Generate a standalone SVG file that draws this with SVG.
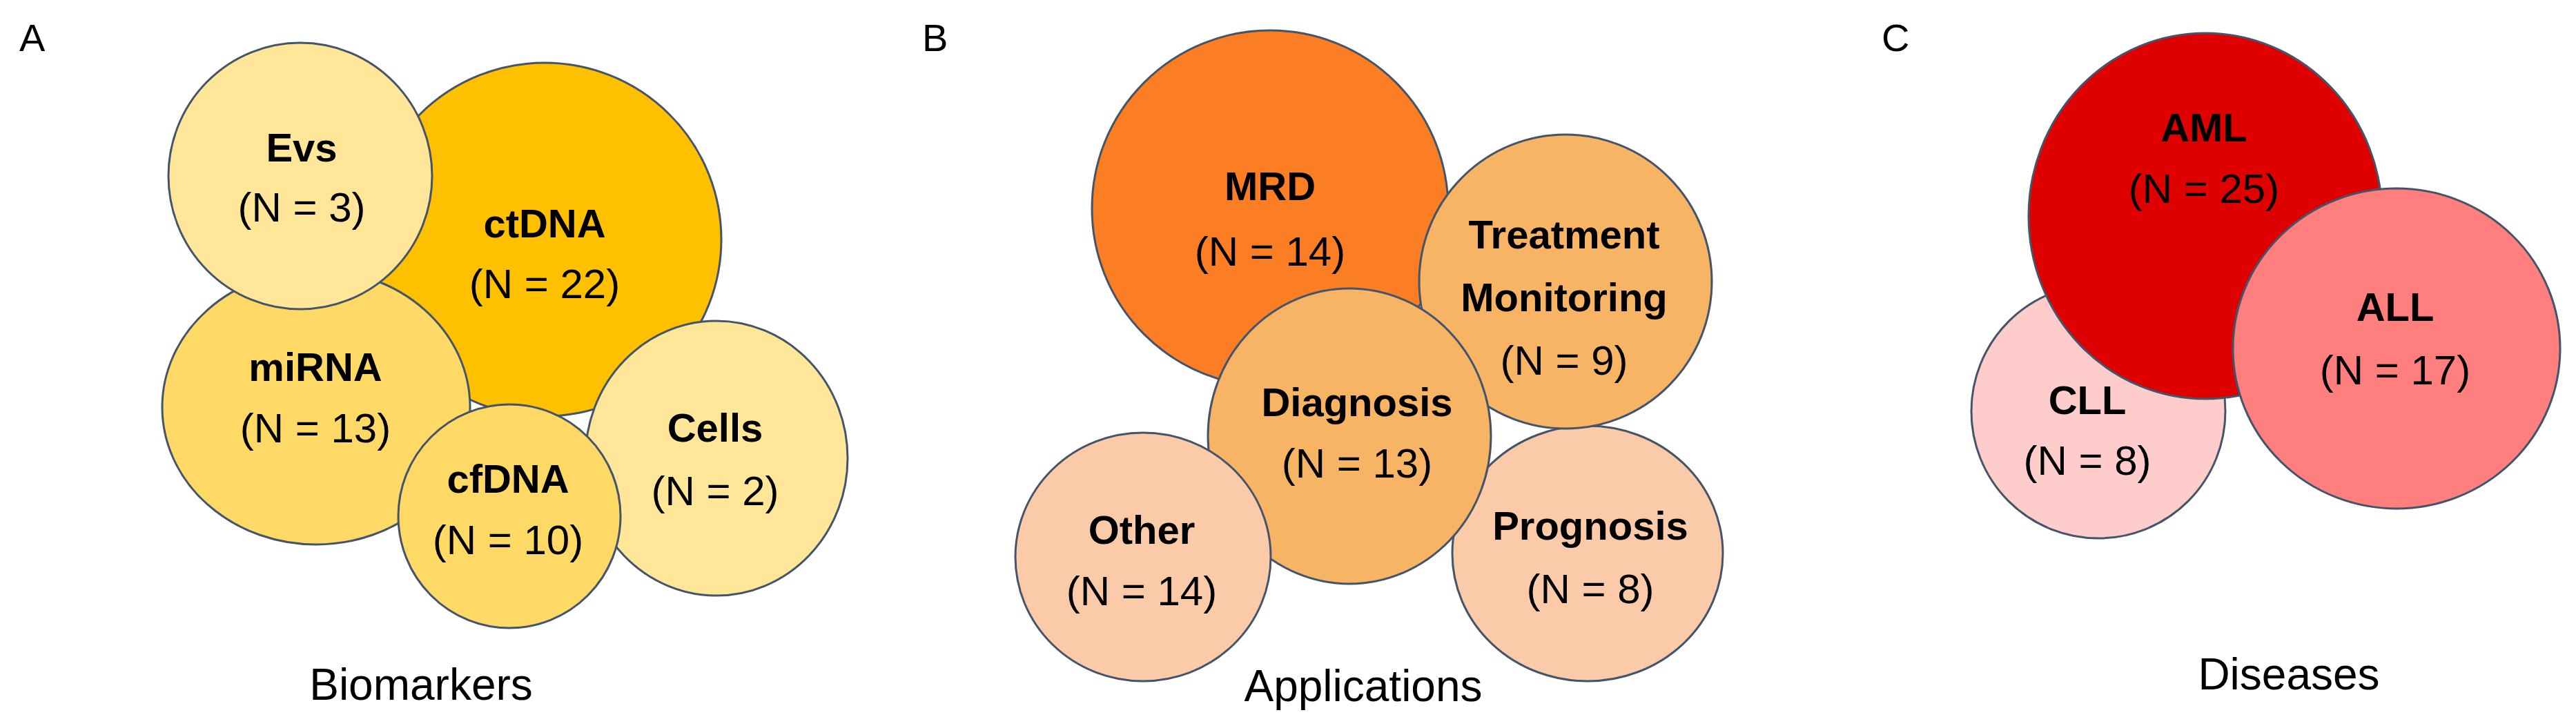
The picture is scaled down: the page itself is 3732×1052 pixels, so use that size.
<svg xmlns="http://www.w3.org/2000/svg" width="3732" height="1052" viewBox="0 0 3732 1052">
<style>
.c{stroke:#44546A;stroke-width:3}
.b{font-family:"Liberation Sans",Arial,sans-serif;font-weight:bold;font-size:58px;text-anchor:middle;fill:#000}
.n{font-family:"Liberation Sans",Arial,sans-serif;font-size:60px;text-anchor:middle;fill:#000}
.t{font-family:"Liberation Sans",Arial,sans-serif;font-size:64px;text-anchor:middle;fill:#000}
.l{font-family:"Liberation Sans",Arial,sans-serif;font-size:56px;fill:#000}
</style>
<text class="l" x="28" y="74">A</text>
<text class="l" x="1336" y="74">B</text>
<text class="l" x="2726" y="74">C</text>
<g id="ctDNA"><ellipse class="c" cx="789" cy="347" rx="256" ry="256" fill="#FFC000"/><text class="b" x="789" y="344">ctDNA</text><text class="n" x="789" y="432">(N = 22)</text></g>
<g id="miRNA"><ellipse class="c" cx="458" cy="590" rx="223" ry="199" fill="#FFD966"/><text class="b" x="457" y="552">miRNA</text><text class="n" x="457" y="641">(N = 13)</text></g>
<g id="Evs"><ellipse class="c" cx="435" cy="255" rx="191" ry="193" fill="#FFE699"/><text class="b" x="437" y="234">Evs</text><text class="n" x="437" y="321">(N = 3)</text></g>
<g id="Cells"><ellipse class="c" cx="1038" cy="664" rx="190" ry="199" fill="#FFE699"/><text class="b" x="1036" y="640">Cells</text><text class="n" x="1036" y="732">(N = 2)</text></g>
<g id="cfDNA"><ellipse class="c" cx="738" cy="748" rx="161" ry="162" fill="#FFD966"/><text class="b" x="736" y="714">cfDNA</text><text class="n" x="736" y="803">(N = 10)</text></g>
<text class="t" x="610" y="1014">Biomarkers</text>
<g id="MRD"><ellipse class="c" cx="1840" cy="302" rx="258" ry="258" fill="#FB7D24"/><text class="b" x="1840" y="290">MRD</text><text class="n" x="1840" y="385">(N = 14)</text></g>
<g id="Prognosis"><ellipse class="c" cx="2300" cy="802" rx="196" ry="185" fill="#FBCAA8"/><text class="b" x="2304" y="782">Prognosis</text><text class="n" x="2304" y="874">(N = 8)</text></g>
<g id="Treatment"><ellipse class="c" cx="2268" cy="408" rx="212" ry="213" fill="#F8B465"/><text class="b" x="2266" y="360">Treatment</text><text class="b" x="2266" y="451">Monitoring</text><text class="n" x="2266" y="543">(N = 9)</text></g>
<g id="Diagnosis"><ellipse class="c" cx="1955" cy="632" rx="205" ry="214" fill="#F8B465"/><text class="b" x="1966" y="603">Diagnosis</text><text class="n" x="1966" y="692">(N = 13)</text></g>
<g id="Other"><ellipse class="c" cx="1656" cy="807" rx="185" ry="180" fill="#FBCAA8"/><text class="b" x="1654" y="788">Other</text><text class="n" x="1654" y="877">(N = 14)</text></g>
<text class="t" x="1975" y="1016">Applications</text>
<g id="CLL"><ellipse class="c" cx="3040" cy="596" rx="184" ry="184" fill="#FFCCCC"/><text class="b" x="3024" y="600">CLL</text><text class="n" x="3024" y="688">(N = 8)</text></g>
<g id="AML"><ellipse class="c" cx="3195" cy="313" rx="256" ry="265" fill="#DF0000"/><text class="b" x="3193" y="205">AML</text><text class="n" x="3193" y="294">(N = 25)</text></g>
<g id="ALL"><ellipse class="c" cx="3472" cy="505" rx="237" ry="232" fill="#FF7F7F"/><text class="b" x="3470" y="465">ALL</text><text class="n" x="3470" y="557">(N = 17)</text></g>
<text class="t" x="3316" y="999">Diseases</text>
<g id="connectors"/>
</svg>
